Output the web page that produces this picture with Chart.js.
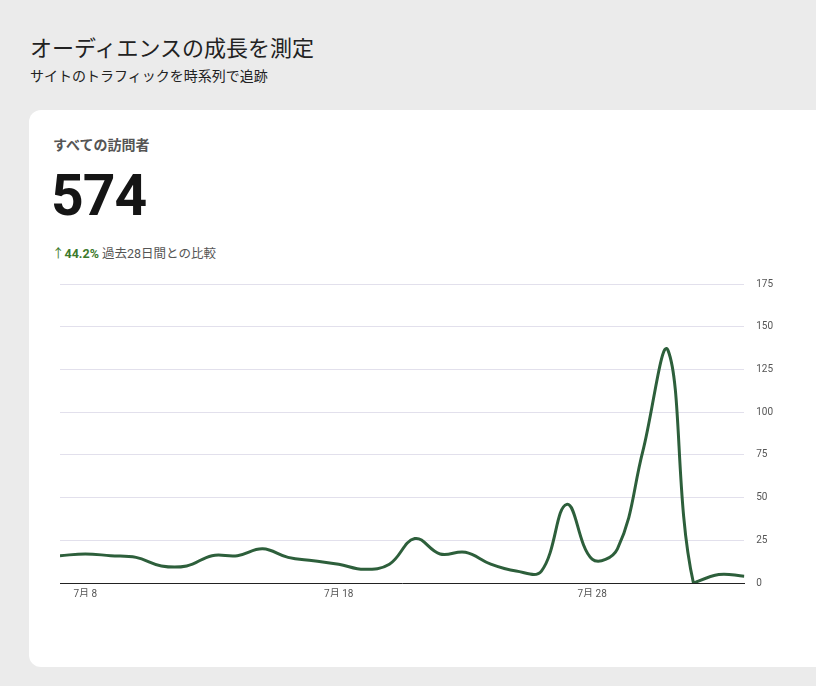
<!DOCTYPE html>
<html lang="ja">
<head>
<meta charset="UTF-8">
<title>オーディエンスの成長を測定</title>
<script src="https://cdn.jsdelivr.net/npm/chart.js"></script>
<style>
    body { margin: 0; background: #ebebeb; font-family: Roboto, "Noto Sans CJK JP", sans-serif; width: 816px; height: 686px; overflow: hidden; position: relative; }
    .title { position: absolute; left: 30px; top: 30px; font-size: 22px; color: #222; }
    .subtitle { position: absolute; left: 30px; top: 65px; font-size: 14px; color: #222; }
    .card { position: absolute; left: 29px; top: 110px; width: 820px; height: 557px; background: #fff; border-radius: 12px; }
    .label { position: absolute; left: 24px; top: 24px; font-size: 14px; font-weight: bold; color: #555; }
    .total { position: absolute; left: 22px; top: 52px; font-size: 57px; font-weight: bold; color: #151515; letter-spacing: -1px; }
    .delta { position: absolute; left: 23px; top: 133px; font-size: 12.5px; color: #555; }
    .delta b { color: #3c7a2c; }
    .delta i { font-style: normal; color: #3c7a2c; }
    #wrap { position: absolute; left: 31px; top: 156px; width: 725px; height: 335px; }
</style>
</head>
<body>
<div class="title">オーディエンスの成長を測定</div>
<div class="subtitle">サイトのトラフィックを時系列で追跡</div>
<div class="card">
    <div class="label">すべての訪問者</div>
    <div class="total">574</div>
    <div class="delta"><i>↑</i><b>44.2%</b> 過去28日間との比較</div>
    <div id="wrap"><canvas id="grafica"></canvas></div>
</div>
<script>
// 7月7日〜8月3日
const dias = ['7月 7','7月 8','7月 9','7月 10','7月 11','7月 12','7月 13','7月 14','7月 15','7月 16',
    '7月 17','7月 18','7月 19','7月 20','7月 21','7月 22','7月 23','7月 24','7月 25','7月 26',
    '7月 27','7月 28','7月 29','7月 30','7月 31','8月 1','8月 2','8月 3'];
const visitantes = [16, 17, 16, 15, 10, 10, 16, 16, 20, 15,
    13, 11, 8, 11, 26, 17, 18, 11, 7, 7,
    46, 14, 20, 77, 136, 0, 5, 4];
const ticksMostrados = ['7月 8', '7月 18', '7月 28'];
const yMax = 175;
const yPaso = 25;

new Chart(document.getElementById('grafica').getContext('2d'), {
    type: 'line',
    data: {
        labels: dias,
        datasets: [{
            data: visitantes,
            borderColor: '#2d5f3b',
            borderWidth: 3,
            tension: 0.4,
            pointRadius: 0,
            fill: false
        }]
    },
    options: {
        responsive: true,
        maintainAspectRatio: false,
        animation: false,
        plugins: { legend: { display: false }, tooltip: { enabled: false } },
        scales: {
            x: {
                grid: { display: false },
                border: { display: true, color: '#222', width: 1 },
                ticks: {
                    autoSkip: false,
                    maxRotation: 0,
                    color: '#555',
                    font: { size: 10, family: 'Roboto, "Noto Sans CJK JP"' },
                    padding: -3,
                    callback: function(v) {
                        const l = this.getLabelForValue(v);
                        return ticksMostrados.includes(l) ? l : '';
                    }
                }
            },
            y: {
                position: 'right',
                min: 0,
                max: yMax,
                grid: { color: '#e2e0ec', drawTicks: false },
                border: { display: false },
                ticks: {
                    stepSize: yPaso,
                    color: '#555',
                    padding: 12,
                    font: { size: 10, family: 'Roboto, "Noto Sans CJK JP"' }
                }
            }
        }
    }
});
</script>
</body>
</html>
